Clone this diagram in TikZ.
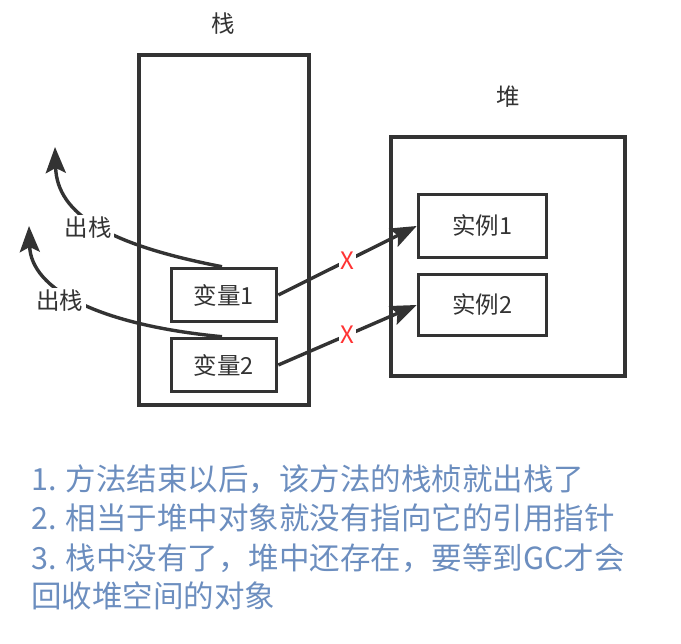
\documentclass[tikz,border=0pt]{standalone}
\usepackage{fontspec}
\setmainfont{Noto Sans CJK SC}
\usetikzlibrary{arrows.meta}
\definecolor{ink}{HTML}{333333}
\definecolor{note}{HTML}{6C8EBF}
\definecolor{cross}{HTML}{FF3333}
\tikzset{
  frame/.style={draw=ink, line width=3.6pt},
  cell/.style={draw=ink, line width=3.6pt, fill=white, inner sep=0pt, font=\fontsize{23.5}{26}\selectfont, text=ink},
  lbl/.style={font=\fontsize{23.5}{26}\selectfont, text=ink, inner sep=1pt},
  conn/.style={draw=ink, line width=3.4pt, -{Stealth[length=26pt,width=20pt,inset=5pt]}},
  xmark/.style={fill=white, text=cross, font=\fontsize{24}{26}\selectfont, inner sep=2pt},
  outlbl/.style={fill=white, font=\fontsize{23.5}{26}\selectfont, text=ink, inner sep=2pt},
  notetext/.style={anchor=base west, text=note, font=\fontsize{30.5}{39}\selectfont, inner sep=0pt}
}
\begin{document}
\begin{tikzpicture}[x=1pt,y=-1pt]
\useasboundingbox (0,0) rectangle (681,644);
% stack and heap
\draw[frame] (138.8,54.8) rectangle (309.2,405.2);
\node[lbl] (stackT) at (223,24) {栈};
\draw[frame] (390.8,136.8) rectangle (625.2,376.2);
\node[lbl] (heapT) at (508,97) {堆};
% boxes
\node[cell, minimum width=105pt, minimum height=53pt] (v1) at (224,295) {变量1};
\node[cell, minimum width=105pt, minimum height=53pt] (v2) at (224,365) {变量2};
\node[cell, minimum width=128pt, minimum height=63pt] (i1) at (482.5,226) {实例1};
\node[cell, minimum width=128pt, minimum height=61pt] (i2) at (482.5,305) {实例2};
% references
\draw[conn] (v1.east) -- (i1.west) node[xmark, pos=0.5] {X};
\draw[conn] (v2.east) -- (i2.west) node[xmark, pos=0.5] {X};
% pop arrows
\coordinate (p1) at (55,147);
\coordinate (p2) at (29,226);
\draw[conn] ([xshift=-2pt]v1.north) .. controls (110,245) and (57,215) .. (p1);
\node[outlbl] (o1) at (88,228) {出栈};
\draw[conn] ([xshift=-2pt]v2.north) .. controls (100,325) and (31,290) .. (p2);
\node[outlbl] (o2) at (60,301) {出栈};
% notes
\node[notetext] (n1) at (31,491) {1. 方法结束以后，该方法的栈桢就出栈了};
\node[notetext] (n2) at (31,530) {2. 相当于堆中对象就没有指向它的引用指针};
\node[notetext] (n3) at (31,569) {3. 栈中没有了，堆中还存在，要等到GC才会};
\node[notetext] (n4) at (31,608) {回收堆空间的对象};
\end{tikzpicture}
\end{document}
